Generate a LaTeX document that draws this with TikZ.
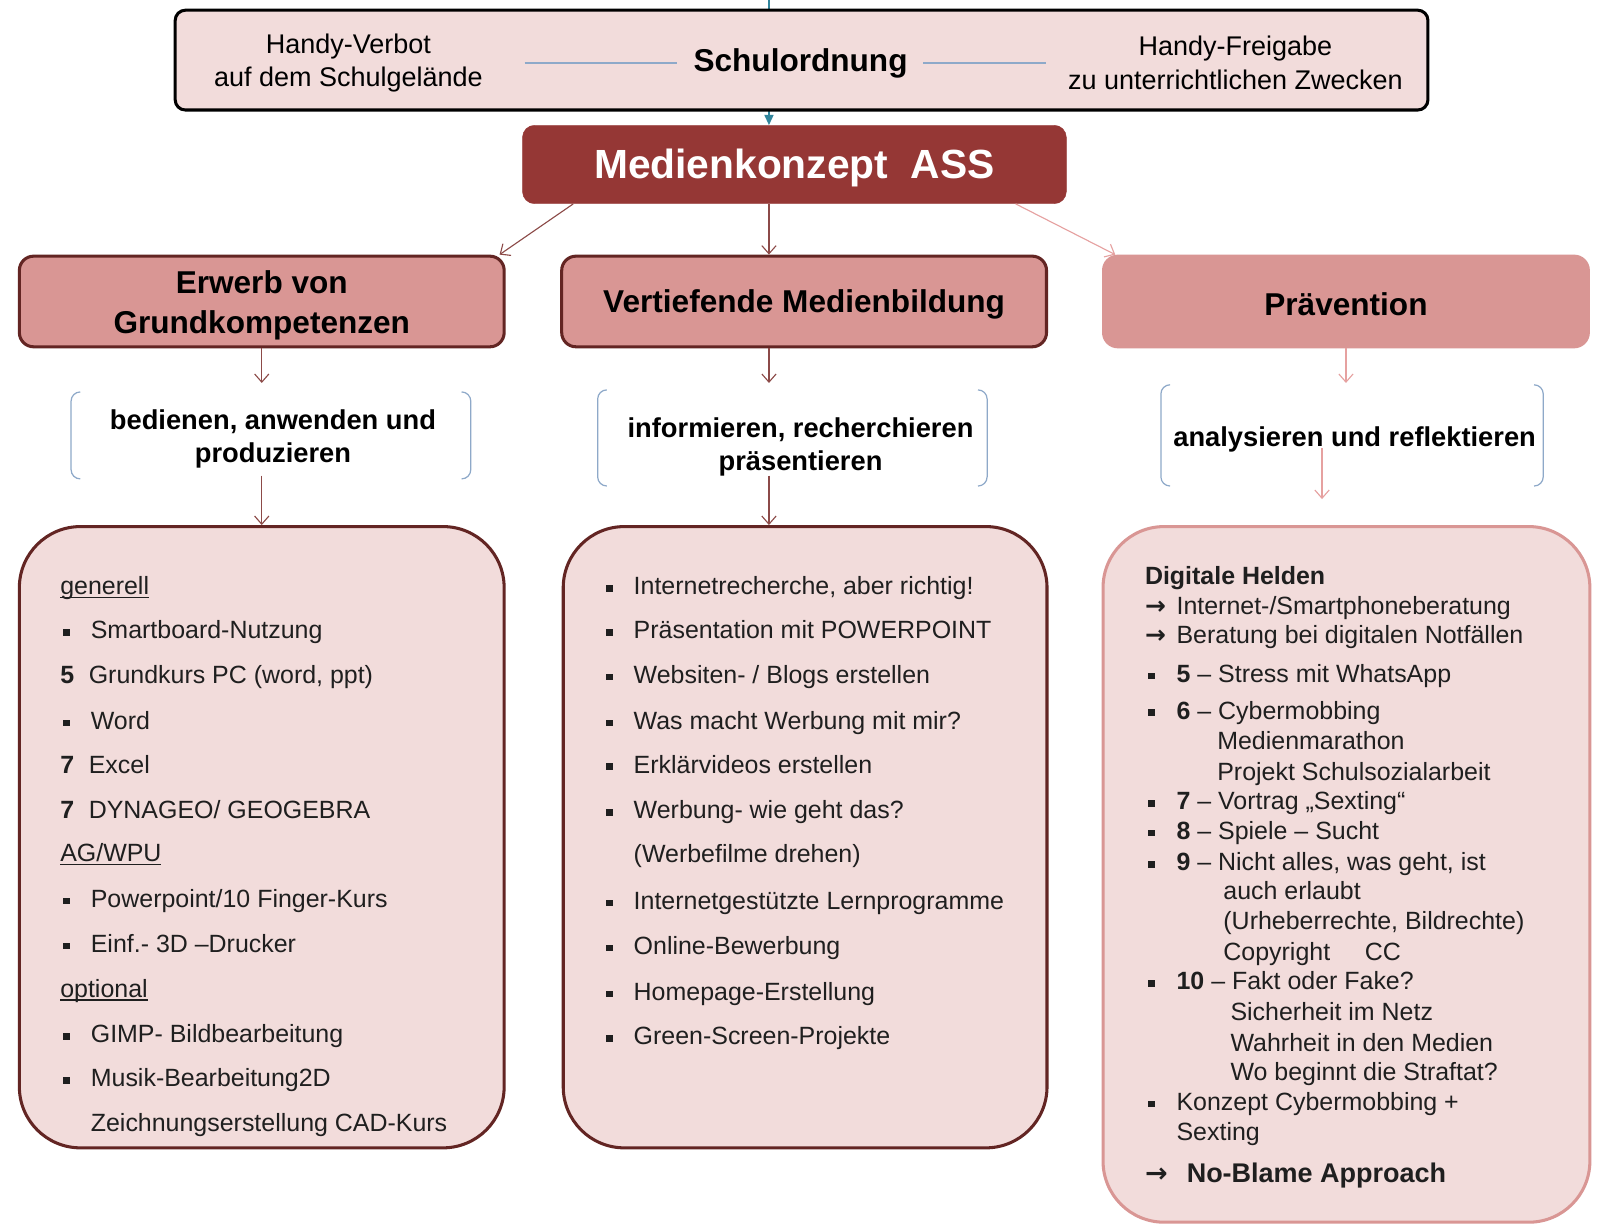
\documentclass[tikz,border=0pt]{standalone}
\usepackage{fontspec}
\setmainfont{Liberation Sans}
\newfontfamily\djv{DejaVu Sans}
\usetikzlibrary{arrows.meta}
\definecolor{lpink}{HTML}{F2DCDB}
\definecolor{mpink}{HTML}{D99694}
\definecolor{dred}{HTML}{953735}
\definecolor{bord}{HTML}{632523}
\definecolor{brk}{HTML}{8EA9C9}
\definecolor{tealc}{HTML}{31859C}
\definecolor{arr}{HTML}{8C4A48}
\definecolor{arrp}{HTML}{E6A1A0}
\newcommand\bsq{\raisebox{3pt}{\rule{6.5pt}{6.5pt}}}
\newcommand\myul[1]{\setbox0\hbox{#1}\rlap{\rule[-3.5pt]{\wd0}{1.2pt}}\box0}
\newcommand\rar{{\djv\bfseries →}}
\begin{document}
\begin{tikzpicture}[x=1pt,y=-1pt,
 lt/.style={anchor=base west,inner sep=0pt,font=\fontsize{24.5}{29}\selectfont,text=black!88},
 conn/.style={draw=arr,line width=1.1pt,-{Straight Barb[length=8pt,width=14pt]}},
 connp/.style={conn,draw=arrp},
 catbox/.style={draw=bord,line width=3pt,fill=mpink,rounded corners=14pt,minimum width=476pt,minimum height=89pt},
 listbox/.style={draw=bord,line width=3pt,fill=lpink,rounded corners=60pt,minimum width=476pt},
 bracket/.style={draw=brk,line width=1.2pt,rounded corners=9pt},
 grp/.style={inner sep=0pt,align=center,font=\bfseries\fontsize{26.8}{33}\selectfont},
 blank/.style={inner sep=0pt}
]
\useasboundingbox (0,0) rectangle (1568,1203);
\fill[white] (0,0) rectangle (1568,1203);

% central title
\node[fill=dred,draw=dred,rounded corners=12pt,minimum width=534pt,minimum height=77pt] (mk) at (780,161.5) {};
\node[inner sep=0pt,text=white,font=\bfseries\fontsize{40}{48}\selectfont] (mkt) at (780,165) {Medienkonzept\ \ ASS};
\coordinate (topin) at (755,0);
\draw[tealc,line width=1.2pt,-{Triangle[length=10pt,width=9pt]}] (topin) -- (topin |- mk.north);

% top box
\node[draw=black,line width=3pt,fill=lpink,rounded corners=10pt,minimum width=1230pt,minimum height=98pt] (so) at (787,59) {};
\node[inner sep=0pt,font=\bfseries\fontsize{31}{37}\selectfont] (schul) at (786,62) {Schulordnung};
\node[inner sep=0pt,align=center,font=\fontsize{26.5}{33}\selectfont] (hv) at (342,62) {Handy-Verbot\\auf dem Schulgelände};
\node[inner sep=0pt,align=center,font=\fontsize{26.5}{33}\selectfont] (hf) at (1213,62) {Handy-Freigabe\\zu unterrichtlichen Zwecken};
\draw[brk,line width=1.5pt] ([xshift=41pt]hv.east) -- ([xshift=-16pt]schul.west);
\draw[brk,line width=1.5pt] ([xshift=15pt]schul.east) -- ([xshift=-22pt]hf.west);

% category boxes
\node[catbox] (erw) at (257,296) {};
\node[catbox] (vert) at (789.5,296) {};
\node[catbox,draw=mpink] (prav) at (1321.5,296) {};
\node[inner sep=0pt,align=center,font=\bfseries\fontsize{31}{39}\selectfont] (erwt) at (257,300) {Erwerb von\\Grundkompetenzen};
\node[inner sep=0pt,font=\bfseries\fontsize{31}{39}\selectfont] (vertt) at (789.5,299) {Vertiefende Medienbildung};
\node[inner sep=0pt,font=\bfseries\fontsize{31}{39}\selectfont] (pravt) at (1321.5,299) {Prävention};

\draw[conn] ([xshift=50pt]mk.south west) -- ([xshift=-6pt]erw.north east);
\path ([xshift=-25pt]mk.south) coordinate (mkc);
\draw[conn] (mkc) -- (mkc |- vert.north);
\draw[connp] ([xshift=-50pt]mk.south east) -- ([xshift=13pt]prav.north west);

% bracket groups
\node[blank,minimum width=392pt,minimum height=85pt] (g1) at (266,427.5) {};
\node[blank,minimum width=382pt,minimum height=94pt] (g2) at (778,430) {};
\node[blank,minimum width=375pt,minimum height=99pt] (g3) at (1327.5,427.5) {};
\foreach \g in {g1,g2,g3}{
 \draw[bracket] ([xshift=9pt]\g.north west) -- (\g.north west) -- (\g.south west) -- ([xshift=9pt]\g.south west);
 \draw[bracket] ([xshift=-9pt]\g.north east) -- (\g.north east) -- (\g.south east) -- ([xshift=-9pt]\g.south east);
}
\node[grp] (t1) at (268,431) {bedienen, anwenden und\\produzieren};
\node[grp] (t2) at (786,439) {informieren, recherchieren\\präsentieren};
\node[grp] (t3) at (1330,431) {analysieren und reflektieren};

\coordinate (e1) at (257,376);
\draw[conn] (erw.south) -- (e1);
\path ([xshift=-34.5pt]vert.south) coordinate (vs);
\coordinate (e2) at (755,376);
\draw[conn] (vs) -- (e2);
\coordinate (e3) at (1321.5,376);
\draw[connp] (prav.south) -- (e3);

% list boxes
\node[listbox,minimum height=610pt] (lb1) at (257,822) {};
\node[listbox,minimum width=475pt,minimum height=610pt] (lb2) at (790.5,822) {};
\node[listbox,draw=mpink,minimum width=478pt,minimum height=683pt] (lb3) at (1322,858.5) {};

\coordinate (s1) at (257,467);
\draw[conn] (s1) -- (s1 |- lb1.north);
\coordinate (s2) at (755,467);
\draw[conn] (s2) -- (s2 |- lb2.north);
\coordinate (s3) at (1298,440);
\coordinate (u3) at (1298,490);
\draw[connp] (s3) -- (u3);

% left list
\node[lt] (a1) at (59,584) {\myul{generell}};
\node[lt] (a2) at (62,627) {\makebox[27pt][l]{\bsq}Smartboard-Nutzung};
\node[lt] (a3) at (59,671) {\makebox[28pt][l]{\textbf{5}}Grundkurs PC (word, ppt)};
\node[lt] (a4) at (62,716) {\makebox[27pt][l]{\bsq}Word};
\node[lt] (a5) at (59,759) {\makebox[28pt][l]{\textbf{7}}Excel};
\node[lt] (a6) at (59,804) {\makebox[28pt][l]{\textbf{7}}DYNAGEO/ GEOGEBRA};
\node[lt] (a7) at (59,846) {\myul{AG/WPU}};
\node[lt] (a8) at (62,891) {\makebox[27pt][l]{\bsq}Powerpoint/10 Finger-Kurs};
\node[lt] (a9) at (62,935) {\makebox[27pt][l]{\bsq}Einf.- 3D –Drucker};
\node[lt] (a10) at (59,979) {\myul{optional}};
\node[lt] (a11) at (62,1024) {\makebox[27pt][l]{\bsq}GIMP- Bildbearbeitung};
\node[lt] (a12) at (62,1067) {\makebox[27pt][l]{\bsq}Musik-Bearbeitung2D};
\node[lt] (a13) at (89,1111) {Zeichnungserstellung CAD-Kurs};

% middle list
\node[lt] (b1) at (595,584) {\makebox[27pt][l]{\bsq}Internetrecherche, aber richtig!};
\node[lt] (b2) at (595,627) {\makebox[27pt][l]{\bsq}Präsentation mit POWERPOINT};
\node[lt] (b3) at (595,671) {\makebox[27pt][l]{\bsq}Websiten- / Blogs erstellen};
\node[lt] (b4) at (595,716) {\makebox[27pt][l]{\bsq}Was macht Werbung mit mir?};
\node[lt] (b5) at (595,759) {\makebox[27pt][l]{\bsq}Erklärvideos erstellen};
\node[lt] (b6) at (595,804) {\makebox[27pt][l]{\bsq}Werbung- wie geht das?};
\node[lt] (b7) at (622,847) {(Werbefilme drehen)};
\node[lt] (b8) at (595,893) {\makebox[27pt][l]{\bsq}Internetgestützte Lernprogramme};
\node[lt] (b9) at (595,937) {\makebox[27pt][l]{\bsq}Online-Bewerbung};
\node[lt] (b10) at (595,982) {\makebox[27pt][l]{\bsq}Homepage-Erstellung};
\node[lt] (b11) at (595,1026) {\makebox[27pt][l]{\bsq}Green-Screen-Projekte};

% right list
\node[lt] (r1) at (1124,574) {\textbf{Digitale Helden}};
\node[lt] (r2) at (1124,603) {\makebox[31pt][l]{\rar}Internet-/Smartphoneberatung};
\node[lt] (r3) at (1124,632) {\makebox[31pt][l]{\rar}Beratung bei digitalen Notfällen};
\node[lt] (r4) at (1127,670) {\makebox[28pt][l]{\bsq}\textbf{5} – Stress mit WhatsApp};
\node[lt] (r5) at (1127,706) {\makebox[28pt][l]{\bsq}\textbf{6} – Cybermobbing};
\node[lt] (r6) at (1195,736) {Medienmarathon};
\node[lt] (r7) at (1195,766) {Projekt Schulsozialarbeit};
\node[lt] (r8) at (1127,795) {\makebox[28pt][l]{\bsq}\textbf{7} – Vortrag „Sexting“};
\node[lt] (r9) at (1127,824) {\makebox[28pt][l]{\bsq}\textbf{8} – Spiele – Sucht};
\node[lt] (r10) at (1127,855) {\makebox[28pt][l]{\bsq}\textbf{9} – Nicht alles, was geht, ist};
\node[lt] (r11) at (1201,883) {auch erlaubt};
\node[lt] (r12) at (1201,913) {(Urheberrechte, Bildrechte)};
\node[lt] (r13) at (1201,943) {\makebox[139pt][l]{Copyright}CC};
\node[lt] (r14) at (1127,972) {\makebox[28pt][l]{\bsq}\textbf{10} – Fakt oder Fake?};
\node[lt] (r15) at (1208,1002) {Sicherheit im Netz};
\node[lt] (r16) at (1208,1032) {Wahrheit in den Medien};
\node[lt] (r17) at (1208,1061) {Wo beginnt die Straftat?};
\node[lt] (r18) at (1127,1090) {\makebox[28pt][l]{\bsq}Konzept Cybermobbing +};
\node[lt] (r19) at (1155,1120) {Sexting};
\node[lt,font=\bfseries\fontsize{26.5}{31}\selectfont] (r20) at (1124,1161) {\makebox[41pt][l]{\rar}No-Blame Approach};
\end{tikzpicture}
\end{document}
